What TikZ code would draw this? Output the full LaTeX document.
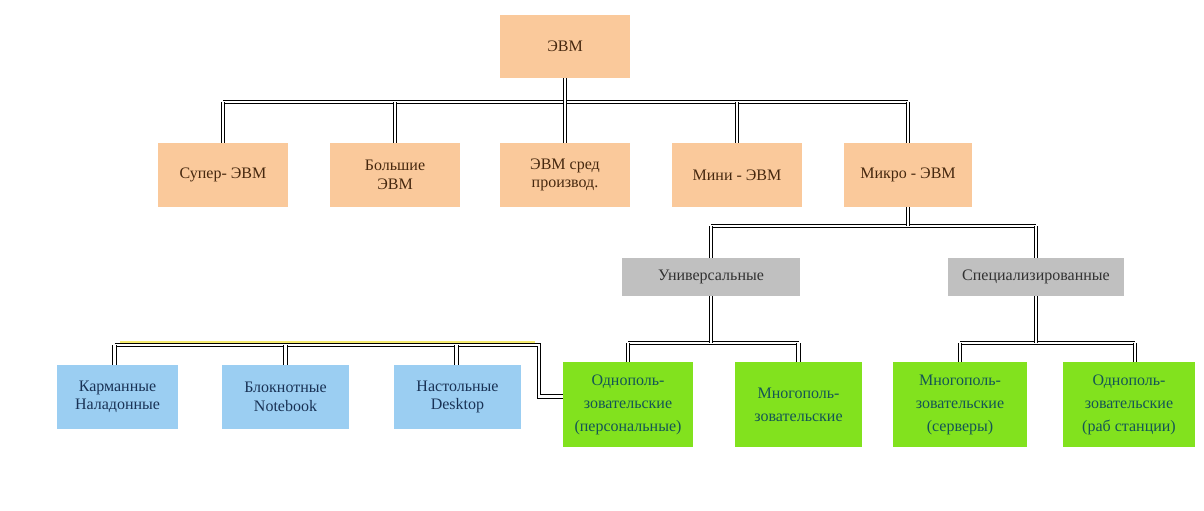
\documentclass[tikz,border=0pt]{standalone}
\usepackage{fontspec}
\setmainfont{Liberation Serif}
\usetikzlibrary{calc}
\definecolor{peach}{RGB}{250,201,155}
\definecolor{greybox}{RGB}{192,192,192}
\definecolor{lime}{RGB}{130,226,30}
\definecolor{skyb}{RGB}{155,206,242}
\definecolor{browntxt}{RGB}{70,40,15}
\definecolor{greytxt}{RGB}{50,50,50}
\definecolor{tealtxt}{RGB}{20,85,85}
\definecolor{navytxt}{RGB}{25,50,85}
\definecolor{hilite}{RGB}{245,235,110}
\tikzset{
  x=1pt, y=-1pt,
  box/.style={draw=none, inner sep=2pt, align=center, font=\fontsize{16}{18.5}\selectfont},
  obox/.style={box, fill=peach, text=browntxt, minimum width=130pt, minimum height=64pt},
  gbox/.style={box, fill=greybox, text=greytxt, minimum height=38pt, minimum width=178pt},
  lbox/.style={box, fill=lime, text=tealtxt, minimum height=85pt, font=\fontsize{16}{23}\selectfont},
  bbox/.style={box, fill=skyb, text=navytxt, minimum height=64pt},
  conn/.style={draw=black, line width=1pt, double=white, double distance=2.4pt}
}
\begin{document}
\begin{tikzpicture}
\useasboundingbox (0,0) rectangle (1204,511);
\fill[white] (0,0) rectangle (1204,511);
% top level
\node[obox, minimum height=63pt] (evm) at (565,46.5) {ЭВМ};
\node[obox] (super) at (223,175) {Супер- ЭВМ};
\node[obox] (big) at (395,175) {Большие\\ЭВМ};
\node[obox] (mid) at (565,175) {ЭВМ сред\\производ.};
\node[obox] (mini) at (737,175) {Мини - ЭВМ};
\node[obox, minimum width=128pt] (micro) at (908,175) {Микро - ЭВМ};
% second level
\node[gbox] (univ) at (711,277) {Универсальные};
\node[gbox, minimum width=176pt] (spec) at (1036,277) {Специализированные};
% green
\node[lbox, minimum width=130pt] (g1) at (628,404.5) {Однополь-\\зовательские\\(персональные)};
\node[lbox, minimum width=127pt] (g2) at (798.5,404.5) {Многополь-\\зовательские};
\node[lbox, minimum width=134pt] (g3) at (960,404.5) {Многополь-\\зовательские\\(серверы)};
\node[lbox, minimum width=132pt] (g4) at (1129,404.5) {Однополь-\\зовательские\\(раб станции)};
% blue
\node[bbox, minimum width=121pt] (b1) at (117.5,397) {Карманные\\Наладонные};
\node[bbox, minimum width=127pt] (b2) at (285.5,397) {Блокнотные\\Notebook};
\node[bbox, minimum width=127pt] (b3) at (457.5,397) {Настольные\\Desktop};
% coordinates of buses
\coordinate (busA) at (565,102);
\coordinate (busB) at (908,226);
\coordinate (busC) at (711,343);
\coordinate (busD) at (1036,343);
\coordinate (busE) at (539,345);
% top bus
\draw[conn] (super.north |- busA) -- (micro.north |- busA);
\draw[conn] (evm.south) -- (busA);
\foreach \n in {super,big,mid,mini,micro}
  \draw[conn] (\n.north |- busA) -- (\n.north);
% micro bus
\draw[conn] (univ.north |- busB) -- (spec.north |- busB);
\draw[conn] (micro.south) -- (busB);
\draw[conn] (univ.north |- busB) -- (univ.north);
\draw[conn] (spec.north |- busB) -- (spec.north);
% universal bus
\draw[conn] (g1.north |- busC) -- (g2.north |- busC);
\draw[conn] (univ.south) -- (busC);
\draw[conn] (g1.north |- busC) -- (g1.north);
\draw[conn] (g2.north |- busC) -- (g2.north);
% specialised bus
\draw[conn] (g3.north |- busD) -- ([xshift=6pt]g4.north |- busD);
\draw[conn] (spec.south) -- (busD);
\draw[conn] (g3.north |- busD) -- (g3.north);
\draw[conn] ([xshift=6pt]g4.north |- busD) -- ([xshift=6pt]g4.north);
% blue bus
\draw[conn] ([xshift=-3pt]b1.north |- busE) -- (busE) |- ([yshift=8pt]g1.west);
\draw[hilite, line width=1.8pt] ([xshift=2pt]b1.north |- 0,341.6) -- (535,341.6);
\foreach \n/\s in {b1/-3,b2/0,b3/-1}
  \draw[conn] ([xshift=\s pt]\n.north |- busE) -- ([xshift=\s pt]\n.north);
\end{tikzpicture}
\end{document}
